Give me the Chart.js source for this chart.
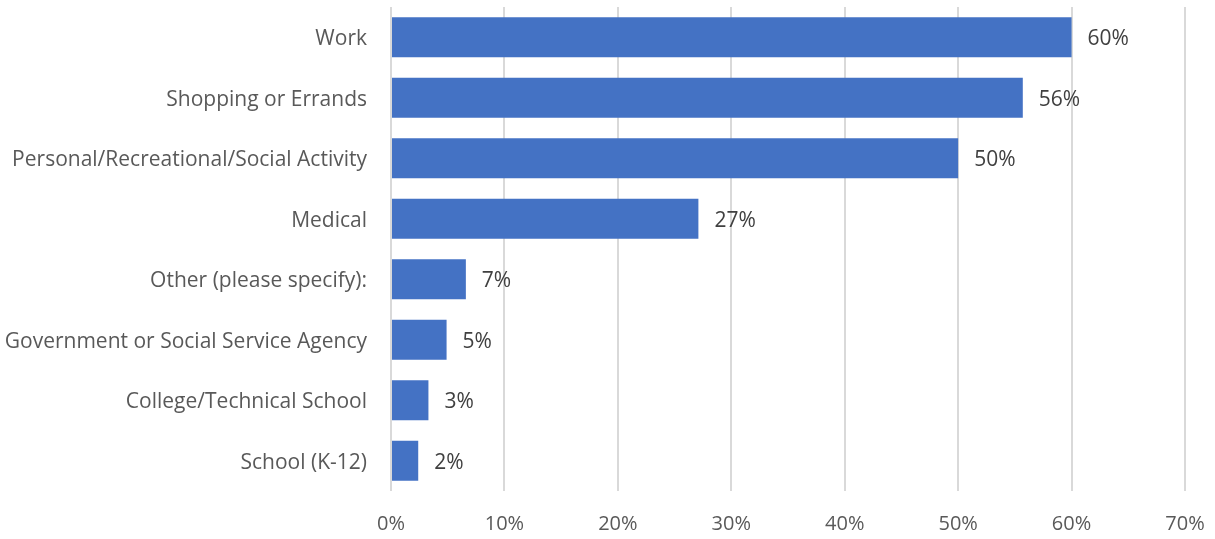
<!DOCTYPE html>
<html>
<head>
<meta charset="utf-8">
<script src="https://cdn.jsdelivr.net/npm/chart.js@4"></script>
<style>
  html, body { margin: 0; padding: 0; background: #ffffff; }
  #wrap { width: 1215px; height: 539px; position: relative; }
</style>
</head>
<body>
<div id="wrap"><canvas id="chart"></canvas></div>
<script>
// Trip purposes and share of respondents (%)
const categories = [
  "Work",
  "Shopping or Errands",
  "Personal/Recreational/Social Activity",
  "Medical",
  "Other (please specify):",
  "Government or Social Service Agency",
  "College/Technical School",
  "School (K-12)"
];
const shares = [60.0, 55.7, 50.0, 27.1, 6.6, 4.9, 3.3, 2.4];
const xTicks = [0, 10, 20, 30, 40, 50, 60, 70];

const FONT = "'Open Sans', 'Liberation Sans', sans-serif";

// Value labels drawn just past the end of each bar
const barValueLabels = {
  id: "barValueLabels",
  afterDatasetsDraw(chart) {
    const ctx = chart.ctx;
    const meta = chart.getDatasetMeta(0);
    ctx.save();
    ctx.font = "21px " + FONT;
    ctx.fillStyle = "#404040";
    ctx.textAlign = "left";
    ctx.textBaseline = "middle";
    meta.data.forEach((bar, i) => {
      ctx.fillText(Math.round(shares[i]) + "%", bar.x + 16, bar.y + 2);
    });
    ctx.restore();
  }
};

new Chart(document.getElementById("chart"), {
  type: "bar",
  data: {
    labels: categories,
    datasets: [{
      data: shares,
      backgroundColor: "#4472c4",
      borderWidth: 0,
      barPercentage: 0.66,
      categoryPercentage: 1.0
    }]
  },
  options: {
    indexAxis: "y",
    responsive: true,
    maintainAspectRatio: false,
    animation: false,
    layout: { padding: { top: 7, right: 30, bottom: 0, left: 0 } },
    plugins: {
      legend: { display: false },
      tooltip: { enabled: false }
    },
    scales: {
      x: {
        min: 0,
        max: 70,
        afterBuildTicks(axis) {
          axis.ticks = xTicks.map(v => ({ value: v }));
        },
        afterFit(axis) {
          axis.height = 48;
          axis.paddingLeft = 0;
          axis.paddingRight = 0;
        },
        grid: {
          color: "#d9d9d9",
          lineWidth: 2,
          drawTicks: false
        },
        border: { display: false },
        ticks: {
          color: "#595959",
          font: { family: FONT, size: 20 },
          padding: 21,
          callback: v => v + "%"
        }
      },
      y: {
        afterFit(axis) {
          axis.width = 391;
          axis.paddingTop = 0;
          axis.paddingBottom = 0;
        },
        grid: { display: false, drawTicks: false },
        border: { display: false },
        ticks: {
          color: "#595959",
          font: { family: FONT, size: 21 },
          padding: 24,
          labelOffset: 2
        }
      }
    }
  },
  plugins: [barValueLabels]
});
</script>
</body>
</html>
